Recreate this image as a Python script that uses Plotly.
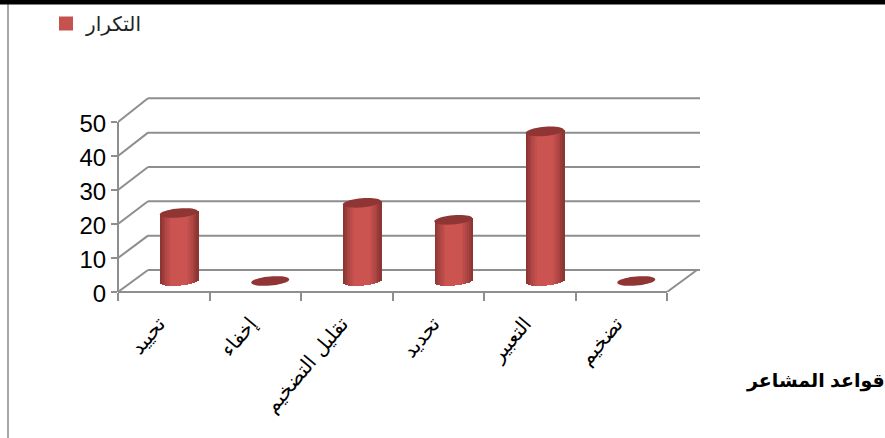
import math
import plotly.graph_objects as go

categories = ["تحييد", "إخفاء", "تقليل التضخيم", "تحديد", "التعبير", "تضخيم"]
values = [20, 0, 23, 18, 44, 0]
y_ticks = [0, 10, 20, 30, 40, 50]
series_name = "التكرار"
axis_title = "قواعد المشاعر"

W, H = 885, 438
L, R, T, B = 118, 705, 90, 292          # plot area in page pixels
UX = (667 - 118) / 6                    # pixels per category
UY = 34 / 10                            # pixels per unit
xmin, xmax = -0.5, -0.5 + (R - L) / UX
ymin, ymax = 0, (B - T) / UY
DX, DY = 30 / UX, 22 / UY               # depth of the 3D box
BACK = 1.01                             # slight perspective of the back wall
SHIFT, LIFT = 15 / UX, 11 / UY          # bars stand mid-floor
RX, RY, TILT = 19 / UX, 4.6 / UY, 1.6 / UY   # ellipse radii and tilt

GREY = "#8e8e8e"
DARK, LIGHT = (132, 50, 48), (203, 83, 80)
TOP = "#8f3634"
SWATCH = "#c5524e"


def px(x):
    return (x - L) / (R - L)


def py(y):
    return (B - y) / (B - T)


def line(x0, y0, x1, y1, xref="x", yref="y", width=2, color=GREY):
    return dict(type="line", xref=xref, yref=yref, x0=x0, y0=y0, x1=x1, y1=y1,
                line=dict(color=color, width=width), layer="below")


shapes = []
for v in y_ticks:
    shapes.append(line(xmin, v, xmin + DX, v * BACK + DY))
    shapes.append(line(xmin + DX, v * BACK + DY, xmin + 582 / UX, v * BACK + DY))
shapes.append(line(5.5, 0, 5.5 + DX, DY))
shapes.append(line(xmin, 0, 5.5, 0, yref="paper"))
shapes[-1]["y0"] = shapes[-1]["y1"] = 0
shapes.append(line(0, 0, 0, 50, xref="paper"))
# page furniture: black band and grey frame edge
shapes.append(dict(type="rect", xref="paper", yref="paper", x0=px(0), x1=px(W),
                   y0=py(0), y1=py(4.5), fillcolor="#000000", line=dict(width=0), layer="above"))
shapes.append(line(px(8), py(4), px(8), py(H), xref="paper", yref="paper", color="#a6a6a6"))


def ellipse_path(cx, cy):
    pts = []
    for i in range(40):
        a = 2 * math.pi * i / 40
        t = math.cos(a)
        pts.append((cx + RX * t, cy + RY * math.sin(a) + TILT * t))
    return "M" + "L".join(f"{x:.4f},{y:.4f}" for x, y in pts) + "Z"


fig = go.Figure()
N = 21
for i in range(N):
    t = -1 + 2 * (i + 0.5) / N
    k = min(1.0, (1 - abs(t)) / 0.6) ** 0.8
    color = "rgb(%d,%d,%d)" % tuple(round(d + (l - d) * k) for d, l in zip(DARK, LIGHT))
    bases = [LIFT - RY * math.sqrt(max(0, 1 - t * t)) + TILT * t for _ in values]
    tops = [v + LIFT + TILT * t if v > 0 else b for v, b in zip(values, bases)]
    fig.add_trace(go.Bar(
        x=categories, y=[tp - b for tp, b in zip(tops, bases)], base=bases,
        width=2 * RX / N * 1.4, offset=[SHIFT + t * RX - RX / N * 0.7] * len(values),
        marker=dict(color=color, line=dict(width=0)),
        showlegend=False, hoverinfo="skip"))

# legend entry for the series, square swatch like the original
fig.add_trace(go.Scatter(x=categories[:1], y=[None], mode="markers", name=series_name,
                         marker=dict(symbol="square", size=14, color=SWATCH),
                         showlegend=True, hoverinfo="skip"))

for i, v in enumerate(values):
    shapes.append(dict(type="path", xref="x", yref="y",
                       path=ellipse_path(i + SHIFT, v + LIFT),
                       fillcolor=TOP, line=dict(width=0), layer="above"))

fig.update_layout(
    width=W, height=H, autosize=False,
    margin=dict(l=L, r=W - R, t=T, b=H - B, pad=0, autoexpand=False),
    paper_bgcolor="white", plot_bgcolor="white",
    barmode="overlay", bargap=0,
    font=dict(family="Liberation Sans, DejaVu Sans", color="#000000"),
    shapes=shapes,
    legend=dict(x=px(46), y=py(4), xanchor="left", yanchor="top",
                bgcolor="rgba(0,0,0,0)", font=dict(size=20, color="#222222")),
    xaxis=dict(type="category", categoryorder="array", categoryarray=categories,
               range=[xmin, xmax], showgrid=False, showline=False, zeroline=False,
               tickson="boundaries", ticks="outside", ticklen=8, tickwidth=2, tickcolor=GREY,
               tickangle=-50, ticklabelstandoff=15, ticklabelshift=-5,
               tickfont=dict(size=20, family="DejaVu Sans", color="#000000")),
    yaxis=dict(range=[ymin, ymax], tickvals=y_ticks, showgrid=False, showline=False,
               zeroline=False, ticks="outside", ticklen=6, tickwidth=2, tickcolor=GREY,
               ticklabelshift=2, tickfont=dict(size=24, color="#000000")),
    annotations=[dict(text="<b>" + axis_title + "</b>", xref="paper", yref="paper",
                      x=px(887), y=py(381), xanchor="right", yanchor="middle",
                      showarrow=False, font=dict(size=19, color="#000000"))],
)
fig.write_html("out.html", config=dict(displayModeBar=False),
               post_script="document.body.style.margin='0';document.body.style.overflow='hidden';")
